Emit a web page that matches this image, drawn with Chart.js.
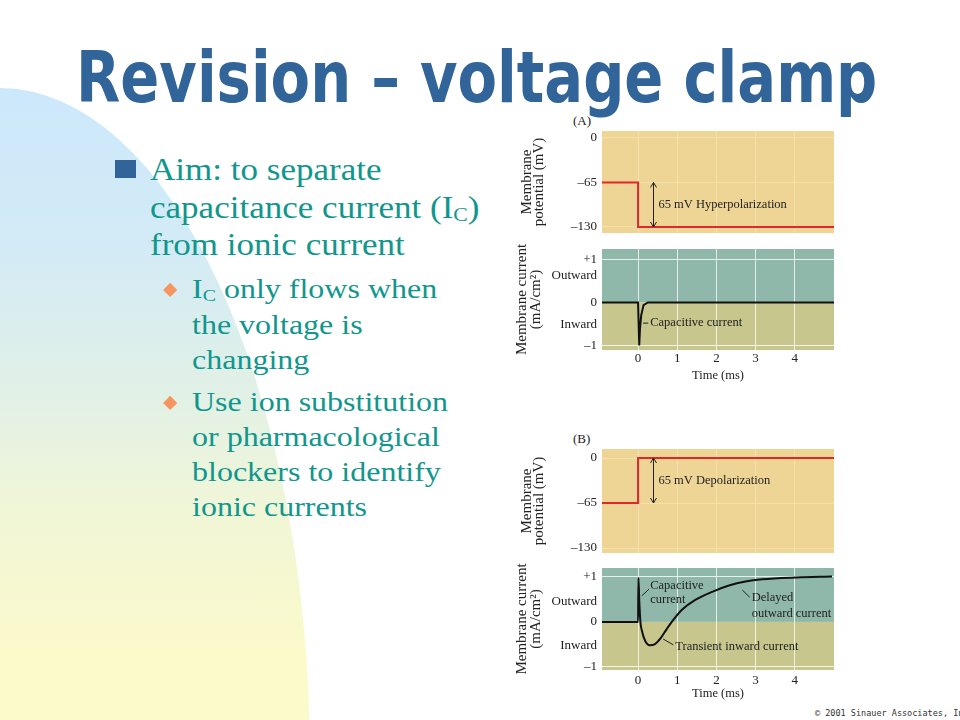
<!DOCTYPE html>
<html><head><meta charset="utf-8">
<script src="https://cdn.jsdelivr.net/npm/chart.js@4.4.1/dist/chart.umd.min.js"></script>
<style>
html,body{margin:0;padding:0;}
body{width:960px;height:720px;overflow:hidden;position:relative;background:#fff;}
#blob{position:absolute;left:-310px;top:88px;width:620px;height:1344px;border-radius:50%;
 background:linear-gradient(to bottom,#cce8fb 0%,#d3ebf6 12%,#e2f1e6 23%,#f1f6d6 32%,#fbfacb 42%,#fdfcc8 100%);}
.t{position:absolute;white-space:nowrap;line-height:1;transform-origin:0 0;}
#title{font-family:"DejaVu Sans";font-weight:bold;font-size:71px;color:#31659a;}
.main{font-family:"Liberation Serif";font-size:30.5px;color:#11968e;}
.sub{font-family:"Liberation Serif";font-size:28px;color:#11968e;}
.t sub{font-size:0.62em;vertical-align:baseline;position:relative;top:0.2em;}
#sq{position:absolute;left:115px;top:160px;width:21px;height:18px;background:#31659a;}
.dia{position:absolute;width:10.3px;height:10.3px;background:#f7955f;transform:rotate(45deg);}
.wrap{position:absolute;}
.lab{position:absolute;font-family:"Liberation Serif";font-size:13px;color:#222;white-space:nowrap;}
#copy{position:absolute;font-family:"DejaVu Sans Mono";font-size:8.5px;color:#333;white-space:nowrap;}
</style></head>
<body>
<div id="blob"></div>
<div id="sq"></div>
<div class="dia" style="left:165.3px;top:284.8px"></div>
<div class="dia" style="left:165.3px;top:397.8px"></div>
<div class="lab" style="left:573px;top:113px">(A)</div>
<div class="lab" style="left:573px;top:431px">(B)</div>
<script>
// ---------- data ----------
const xMin = -0.92, xMax = 5.0;
const timeTicks = [0, 1, 2, 3, 4];
const vTicks = [0, -65, -130];
const vTickLabels = ['0', '–65', '–130'];
const iTickLabels = ['+1', 'Outward', '0', 'Inward', '–1'];
const iTicksA = [1, 0.62, 0, -0.52, -1];
const iTicksB = [1, 0.45, 0, -0.53, -1];

// (A) hyperpolarizing step
const tStepA = [-0.92, 0, 0, 5.0];
const vStepA = [-65, -65, -130, -130];
// (A) membrane current
const tCurA = [-0.92, 0, 0.03, 0.05, 0.08, 0.14, 0.25, 5.0];
const iCurA = [0, 0, -1.0, -0.6, -0.3, -0.06, 0, 0];
// (B) depolarizing step
const tStepB = [-0.92, 0, 0, 5.0];
const vStepB = [-65, -65, 0, 0];
// (B) membrane current
const tCurB = [-0.92, 0, 0.01, 0.03, 0.06, 0.1, 0.18, 0.3, 0.42, 0.52, 0.61, 0.7, 0.86, 1.12, 1.46, 1.89, 2.32, 2.74, 3.17, 4.03, 4.95];
const iCurB = [0, 0, 0.98, 0.5, 0.0, -0.2, -0.42, -0.52, -0.5, -0.42, -0.32, -0.2, 0.0, 0.27, 0.49, 0.67, 0.81, 0.9, 0.95, 0.99, 1.01];

// ---------- text layout ----------
function place(el, x, base){
  el.style.left = x + 'px'; el.style.top = '0px';
  const m = document.createElement('span');
  m.style.cssText = 'display:inline-block;width:0;height:0;vertical-align:baseline;';
  el.appendChild(m); const off = m.offsetTop; el.removeChild(m);
  el.style.top = (base - off) + 'px';
}
function addText(cls, html, x, base, id){
  const d = document.createElement('div'); d.className = 't ' + cls; d.innerHTML = html;
  if (id) d.id = id;
  document.body.appendChild(d); place(d, x, base); return d;
}
const title = addText('', 'Revision – voltage clamp', 76, 101.5, 'title');
title.style.transform = 'scaleX(' + (801 / title.offsetWidth) + ')';

const mainLines = [
  ['Aim: to separate', 180],
  ['capacitance current (I<sub>C</sub>)', 217.5],
  ['from ionic current', 254.5]
];
const subLines = [
  ['I<sub>C</sub> only flows when', 298],
  ['the voltage is', 333.5],
  ['changing', 369],
  ['Use ion substitution', 410.5],
  ['or pharmacological', 445.5],
  ['blockers to identify', 480.5],
  ['ionic currents', 516]
];
const mEls = mainLines.map(l => addText('main', l[0], 150, l[1]));
const ms = 232 / mEls[0].offsetWidth;
mEls.forEach(e => e.style.transform = 'scaleX(' + ms + ')');
const sEls = subLines.map(l => addText('sub', l[0], 192, l[1]));
const ss = 256 / sEls[3].offsetWidth;
sEls.forEach(e => e.style.transform = 'scaleX(' + ss + ')');
const cp = addText('', '© 2001 Sinauer Associates, Inc.', 815, 715.5, 'copy');

// ---------- chart plugins ----------
const bandPlugin = {
  id: 'bands',
  beforeDraw(chart, args, o){
    const {ctx, chartArea: a, scales: {y}} = chart;
    ctx.save();
    if (o.split){
      const y0 = y.getPixelForValue(0);
      ctx.fillStyle = o.upper; ctx.fillRect(a.left, a.top, a.width, y0 - a.top);
      ctx.fillStyle = o.lower; ctx.fillRect(a.left, y0, a.width, a.bottom - y0);
    } else {
      ctx.fillStyle = o.color; ctx.fillRect(a.left, a.top, a.width, a.height);
    }
    ctx.restore();
  }
};
const notePlugin = {
  id: 'notes',
  afterDatasetsDraw(chart, args, o){
    const {ctx, scales: {x, y}} = chart;
    ctx.save();
    ctx.strokeStyle = '#222'; ctx.fillStyle = '#222'; ctx.lineWidth = 1;
    ctx.font = '12.5px "Liberation Serif"'; ctx.textBaseline = 'middle'; ctx.textAlign = 'left';
    (o.items || []).forEach(it => {
      if (it.type === 'text'){
        ctx.fillText(it.text, x.getPixelForValue(it.x), y.getPixelForValue(it.y));
      } else if (it.type === 'line'){
        ctx.beginPath();
        ctx.moveTo(x.getPixelForValue(it.x1), y.getPixelForValue(it.y1));
        ctx.lineTo(x.getPixelForValue(it.x2), y.getPixelForValue(it.y2));
        ctx.stroke();
      } else if (it.type === 'arrow'){
        const px = Math.round(x.getPixelForValue(it.x)) + 0.5;
        const p1 = y.getPixelForValue(it.y1), p2 = y.getPixelForValue(it.y2);
        ctx.beginPath();
        ctx.moveTo(px, p1); ctx.lineTo(px, p2);
        ctx.moveTo(px - 3, p1 + 5); ctx.lineTo(px, p1); ctx.lineTo(px + 3, p1 + 5);
        ctx.moveTo(px - 3, p2 - 5); ctx.lineTo(px, p2); ctx.lineTo(px + 3, p2 - 5);
        ctx.stroke();
      }
    });
    ctx.restore();
  }
};

const pts = (t, v) => t.map((x, i) => ({x: x, y: v[i]}));
const tickFont = {family: 'Liberation Serif', size: 13};

function makePanel(box, p){
  const wrap = document.createElement('div'); wrap.className = 'wrap';
  Object.assign(wrap.style, {left: box.l + 'px', top: box.t + 'px', width: box.w + 'px', height: box.h + 'px'});
  const cv = document.createElement('canvas'); wrap.appendChild(cv); document.body.appendChild(wrap);
  return new Chart(cv, {
    type: 'line',
    data: {datasets: [{
      data: p.data, borderColor: p.color, borderWidth: 2, pointRadius: 0, fill: false,
      tension: 0, cubicInterpolationMode: p.smooth ? 'monotone' : 'default'
    }]},
    plugins: [bandPlugin, notePlugin],
    options: {
      responsive: true, maintainAspectRatio: false, animation: false, events: [],
      layout: {padding: {left: 0, right: 6, top: 6, bottom: p.padB}},
      plugins: {legend: {display: false}, tooltip: {enabled: false}, bands: p.bands, notes: {items: p.notes}},
      scales: {
        x: {
          type: 'linear', min: xMin, max: xMax,
          afterBuildTicks: s => { s.ticks = timeTicks.map(v => ({value: v})); },
          afterFit: s => { s.height = p.xH; s.paddingLeft = 0; s.paddingRight = 0; },
          ticks: {display: p.showX, autoSkip: false, maxRotation: 0, padding: p.xTickPad, color: '#222', font: tickFont},
          grid: {drawTicks: false, color: p.grid, lineWidth: 1},
          border: {display: false},
          title: {display: p.showX, text: 'Time (ms)', color: '#222', font: {family: 'Liberation Serif', size: 12.5}, padding: {top: 0, bottom: p.xTitlePad}}
        },
        y: {
          type: 'linear', min: p.yMin, max: p.yMax,
          afterBuildTicks: s => { s.ticks = p.yTicks.map(v => ({value: v})); },
          afterFit: s => { s.width = 97; s.paddingTop = 0; s.paddingBottom = 0; },
          ticks: {autoSkip: false, padding: 5, color: '#222', font: tickFont, callback: (v, i) => p.yLabels[i]},
          grid: {drawTicks: false, color: p.yGrid, lineWidth: 1},
          border: {display: false},
          title: {display: true, text: p.yTitle, color: '#222',
                  font: {family: 'Liberation Serif', size: 15, lineHeight: p.yTitleLH},
                  padding: {top: p.yTitlePad, bottom: 0}}
        }
      }
    }
  });
}

const tanBg = {split: false, color: '#eed595'};
const curBg = {split: true, upper: '#8fb8ab', lower: '#c6c68d'};
const tanGrid = '#f4e2ab';
const curGrid = 'rgba(255,255,255,0.75)';
const curYGrid = c => (Math.abs(c.tick.value) === 1 ? 'rgba(255,255,255,0.8)' : 'rgba(0,0,0,0)');

// (A) voltage
makePanel({l: 505, t: 125, w: 335, h: 112}, {
  data: pts(tStepA, vStepA), color: '#e3262c', smooth: false, padB: 4,
  yMin: -138.8, yMax: 10.2, yTicks: vTicks, yLabels: vTickLabels,
  yTitle: ['Membrane', 'potential (mV)'], yTitleLH: 0.8, yTitlePad: 16.5,
  showX: false, xH: 0, xTickPad: 0, xTitlePad: 0, bands: tanBg, grid: tanGrid, yGrid: tanGrid,
  notes: [
    {type: 'arrow', x: 0.38, y1: -65, y2: -130},
    {type: 'text', x: 0.52, y: -97.5, text: '65 mV Hyperpolarization'}
  ]
});
// (A) current
makePanel({l: 505, t: 243, w: 335, h: 140}, {
  data: pts(tCurA, iCurA), color: '#111', smooth: false, padB: 0,
  yMin: -1.105, yMax: 1.244, yTicks: iTicksA, yLabels: iTickLabels,
  yTitle: ['Membrane current', '(mA/cm²)'], yTitleLH: 0.87, yTitlePad: 11,
  showX: true, xH: 33, xTickPad: 1, xTitlePad: 0, bands: curBg, grid: curGrid, yGrid: curYGrid,
  notes: [
    {type: 'line', x1: 0.13, y1: -0.48, x2: 0.26, y2: -0.48},
    {type: 'text', x: 0.31, y: -0.48, text: 'Capacitive current'}
  ]
});
// (B) voltage
makePanel({l: 505, t: 443, w: 335, h: 115}, {
  data: pts(tStepB, vStepB), color: '#e3262c', smooth: false, padB: 5,
  yMin: -137.2, yMax: 13, yTicks: vTicks, yLabels: vTickLabels,
  yTitle: ['Membrane', 'potential (mV)'], yTitleLH: 0.8, yTitlePad: 16.5,
  showX: false, xH: 0, xTickPad: 0, xTitlePad: 0, bands: tanBg, grid: tanGrid, yGrid: tanGrid,
  notes: [
    {type: 'arrow', x: 0.38, y1: 0, y2: -65},
    {type: 'text', x: 0.52, y: -32.5, text: '65 mV Depolarization'}
  ]
});
// (B) current
makePanel({l: 505, t: 562, w: 335, h: 141}, {
  data: pts(tCurB, iCurB), color: '#111', smooth: true, padB: 0,
  yMin: -1.07, yMax: 1.2, yTicks: iTicksB, yLabels: iTickLabels,
  yTitle: ['Membrane current', '(mA/cm²)'], yTitleLH: 0.87, yTitlePad: 11,
  showX: true, xH: 33, xTickPad: 3, xTitlePad: 2, bands: curBg, grid: curGrid, yGrid: curYGrid,
  notes: [
    {type: 'line', x1: 0.095, y1: 0.58, x2: 0.28, y2: 0.73},
    {type: 'text', x: 0.31, y: 0.81, text: 'Capacitive'},
    {type: 'text', x: 0.31, y: 0.49, text: 'current'},
    {type: 'line', x1: 2.66, y1: 0.71, x2: 2.85, y2: 0.55},
    {type: 'text', x: 2.9, y: 0.53, text: 'Delayed'},
    {type: 'text', x: 2.9, y: 0.18, text: 'outward current'},
    {type: 'line', x1: 0.64, y1: -0.38, x2: 0.9, y2: -0.51},
    {type: 'text', x: 0.95, y: -0.55, text: 'Transient inward current'}
  ]
});
</script>
</body></html>
